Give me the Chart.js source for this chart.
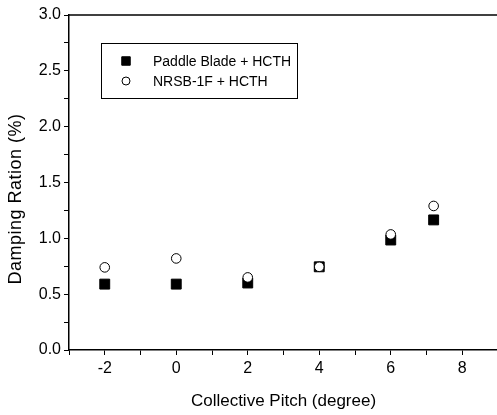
<!DOCTYPE html>
<html><head><meta charset="utf-8">
<script src="https://cdn.jsdelivr.net/npm/chart.js@4/dist/chart.umd.min.js"></script>
<style>html,body{margin:0;padding:0;background:#fff;overflow:hidden}#wrap{width:506px;height:415px}</style>
</head><body><div id="wrap"><canvas id="c" width="506" height="415"></canvas></div>
<script>
const pitch = [-2, 0, 2, 4, 6, 7.2];
const paddleBlade = [0.59, 0.59, 0.60, 0.745, 0.985, 1.165];
const nrsb = [0.74, 0.82, 0.65, 0.745, 1.035, 1.29];
const seriesNames = ['Paddle Blade + HCTH', 'NRSB-1F + HCTH'];
const xTickLabels = ['-2', '0', '2', '4', '6', '8'];
const yTickLabels = ['0.0', '0.5', '1.0', '1.5', '2.0', '2.5', '3.0'];
const FONT = "'Liberation Sans', Arial, sans-serif";

const framePlugin = {
  id: 'frame',
  afterDraw(chart) {
    const ctx = chart.ctx, a = chart.chartArea;
    ctx.save();
    ctx.strokeStyle = '#000'; ctx.lineWidth = 1.5;
    ctx.beginPath(); ctx.moveTo(a.left, a.top); ctx.lineTo(a.right, a.top); ctx.stroke();
    // y title
    ctx.fillStyle = '#000'; ctx.font = '18px ' + FONT;
    try { ctx.letterSpacing = '0.5px'; } catch (e) {}
    ctx.translate(16, 199); ctx.rotate(-Math.PI / 2);
    ctx.textAlign = 'center'; ctx.textBaseline = 'middle';
    ctx.fillText('Damping Ration (%)', 0, 0);
    ctx.restore();
    // legend box
    ctx.save();
    ctx.strokeStyle = '#000'; ctx.lineWidth = 1;
    ctx.strokeRect(101.5, 43.5, 196, 55);
    ctx.font = '14px ' + FONT; ctx.fillStyle = '#000';
    ctx.textBaseline = 'middle'; ctx.textAlign = 'left';
    [0, 1].forEach((i) => {
      const ds = chart.data.datasets[i];
      const y = 61 + i * 20;
      ctx.fillStyle = ds.backgroundColor; ctx.strokeStyle = ds.borderColor; ctx.lineWidth = ds.borderWidth;
      Chart.helpers.drawPoint(ctx, {pointStyle: ds.pointStyle, radius: ds.pointStyle === 'rect' ? 6 : 4, borderWidth: ds.borderWidth}, 126, y);
      ctx.fillStyle = '#000';
      ctx.fillText(ds.label, 153, y + 1);
    });
    ctx.restore();
  }
};

new Chart(document.getElementById('c'), {
  type: 'scatter',
  data: {
    datasets: [
      {label: seriesNames[0], data: pitch.map((x, i) => ({x, y: paddleBlade[i]})),
       pointStyle: 'rect', pointRadius: 7, backgroundColor: '#000', borderColor: '#000', borderWidth: 1, order: 2},
      {label: seriesNames[1], data: pitch.map((x, i) => ({x, y: nrsb[i]})),
       pointStyle: 'circle', pointRadius: 4.8, backgroundColor: '#fff', borderColor: '#000', borderWidth: 1, order: 1}
    ]
  },
  options: {
    responsive: false, animation: false, devicePixelRatio: 1,
    layout: {padding: {top: 15, right: 3, left: 0, bottom: 0}},
    plugins: {legend: {display: false}, tooltip: {enabled: false}},
    scales: {
      x: {
        type: 'linear', min: -3, max: 9,
        ticks: {stepSize: 1, color: '#000', font: {family: FONT, size: 16}, padding: 4, maxRotation: 0,
          callback: (v) => { const s = String(v); return xTickLabels.includes(s) ? s : ''; }},
        grid: {drawOnChartArea: false, drawTicks: true, tickLength: 5, tickColor: '#000', tickWidth: 1},
        border: {color: '#000', width: 1.5},
        title: {display: true, text: 'Collective Pitch (degree)', color: '#000', font: {family: FONT, size: 17}, padding: {top: 6, bottom: 3}},
        afterFit: (s) => { s.height = 65; }
      },
      y: {
        min: 0, max: 3,
        ticks: {stepSize: 0.25, color: '#000', font: {family: FONT, size: 16}, padding: 3,
          callback: (v) => { const s = Number(v).toFixed(1); return (Math.abs(v * 2 - Math.round(v * 2)) < 1e-6 && yTickLabels.includes(s)) ? s : ''; }},
        grid: {drawOnChartArea: false, drawTicks: true, tickLength: 5, tickColor: '#000', tickWidth: 1},
        border: {color: '#000', width: 1.5},
        afterFit: (s) => { s.width = 69; }
      }
    }
  },
  plugins: [framePlugin]
});
</script>
</body></html>
